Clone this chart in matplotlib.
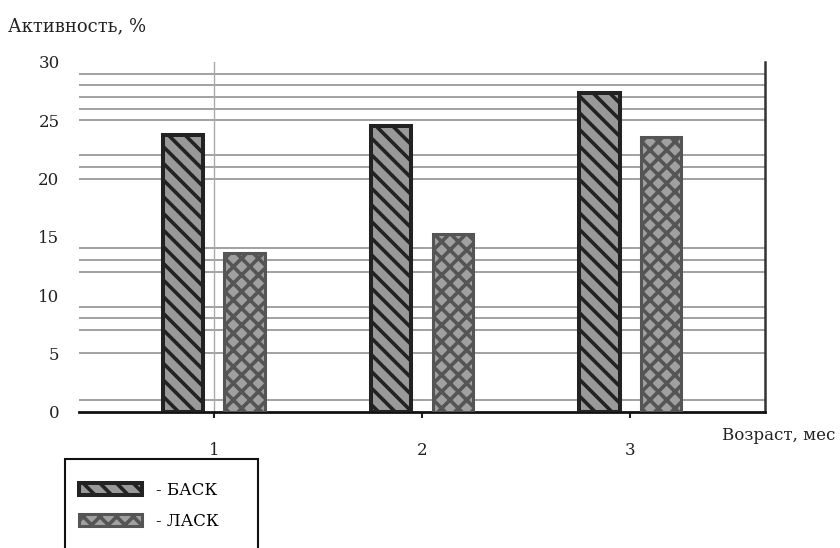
import numpy as np
import matplotlib
matplotlib.use("Agg")
import matplotlib.pyplot as plt
from matplotlib.patches import Rectangle

# values
ages = [1, 2, 3]
back = [23.7, 24.5, 27.3]   # БАСК
lask = [13.6, 15.2, 23.6]   # ЛАСК
y_ticks = [0, 5, 10, 15, 20, 25, 30]
grid_levels = [1, 5, 7, 8, 9, 12, 13, 14, 20, 21, 22, 25, 26, 27, 28, 29]

plt.rcParams['font.family'] = ['DejaVu Serif']
plt.rcParams['hatch.linewidth'] = 2.6

fig = plt.figure(figsize=(8.4, 5.48), dpi=100)
ax = fig.add_axes([79 / 840, 1 - 411.5 / 548, (765 - 79) / 840, (411.5 - 62) / 548])

# scanned grid lines (irregular in the source)
for g in grid_levels:
    ax.axhline(g, color='#9a9a9a', lw=1.3, zorder=0)
ax.axvline(1, color='#aaaaaa', lw=1.0, zorder=0)

x = np.array(ages, dtype=float)
w = 0.197
b1 = ax.bar(x - 0.149, back, w, facecolor='#999999', edgecolor='#222222',
            linewidth=2.9, hatch='\\\\', label='- БАСК', zorder=3)
b2 = ax.bar(x + 0.149, lask, w, facecolor='#a0a0a0', edgecolor='#555555',
            linewidth=2.2, hatch='xx', label='- ЛАСК', zorder=3)

ax.set_xlim(0.351, 3.649)
ax.set_ylim(0, 30)

for s in ['left', 'top']:
    ax.spines[s].set_visible(False)
ax.spines['right'].set_color('#333333')
ax.spines['right'].set_linewidth(1.8)
ax.spines['bottom'].set_color('#111111')
ax.spines['bottom'].set_linewidth(2.0)

ax.set_yticks(y_ticks)
ax.set_yticklabels([str(t) for t in y_ticks], fontsize=12, color='#222222')
ax.tick_params(axis='y', length=0, pad=14)
ax.set_yticks([0, 5, 20, 25], minor=True)
ax.tick_params(axis='y', which='minor', length=6, width=2, color='#222222')

ax.set_xticks(ages)
ax.set_xticklabels([str(a) for a in ages], fontsize=12, color='#222222')
ax.tick_params(axis='x', length=4, width=1.5, pad=18, color='#222222')

fig.text(8 / 840, 1 - 26 / 548, 'Активность, %', fontsize=13, va='center',
         ha='left', color='#222222')
fig.text(722 / 840, 1 - 436 / 548, 'Возраст, мес', fontsize=12, va='center',
         ha='left', color='#222222')

# legend box runs off the bottom of the page in the source
fig.patches.append(Rectangle((65 / 840, -0.05), (258 - 65) / 840, 1 - 459 / 548 + 0.05,
                             transform=fig.transFigure, fill=False,
                             edgecolor='#111111', linewidth=1.5))
leg = ax.legend(handles=[b1, b2], loc='upper left',
                bbox_to_anchor=(79 / 840, 1 - 482 / 548),
                bbox_transform=fig.transFigure, fontsize=12,
                handlelength=3.8, handleheight=0.75, handletextpad=0.8,
                labelspacing=0.85, borderpad=0, borderaxespad=0,
                frameon=False)

fig.savefig('out.png', dpi=100)
